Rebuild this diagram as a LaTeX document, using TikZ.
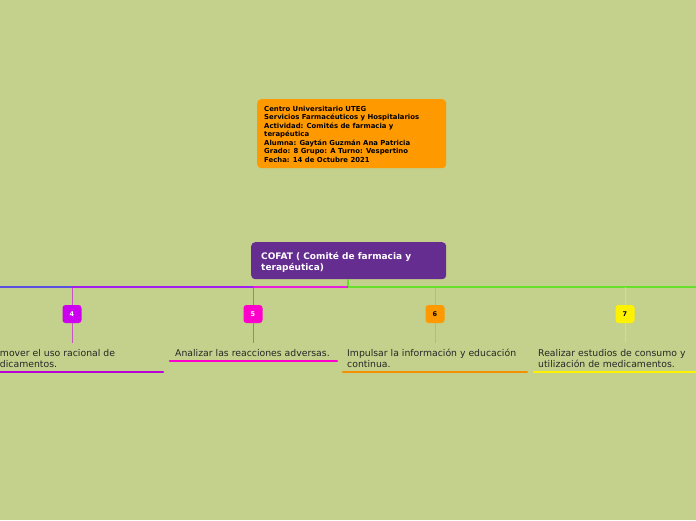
\documentclass[tikz,border=0pt]{standalone}
\usepackage{fontspec}
\setmainfont{DejaVu Sans}
\definecolor{bg}{HTML}{C3D18C}
\definecolor{orng}{HTML}{FF9900}
\definecolor{purp}{HTML}{662D91}
\definecolor{grn}{HTML}{66E02A}
\definecolor{lblue}{HTML}{5B4FE0}
\definecolor{lpurp}{HTML}{A020F0}
\definecolor{lmag}{HTML}{E61EDC}
\definecolor{cfour}{HTML}{CC00EE}
\definecolor{cfive}{HTML}{FF00CC}
\definecolor{csix}{HTML}{FF9900}
\definecolor{cseven}{HTML}{FFF200}
\newcommand{\leafstrut}{\rule{0pt}{9pt}}
\begin{document}
\begin{tikzpicture}[x=1pt,y=-1pt,
  numbox/.style={rounded corners=3pt, minimum width=19pt, minimum height=18pt, inner sep=0pt, font=\fontsize{6.5}{7}\selectfont\bfseries},
  leaf/.style={anchor=north west, inner sep=0pt, align=left, text=black!85, font=\fontsize{9.3}{11}\selectfont},
  stem/.style={line width=1pt, opacity=0.6},
  trunk/.style={line width=1.6pt},
  uline/.style={line width=2.4pt}
]
\useasboundingbox (0,0) rectangle (696,520);
\fill[bg] (0,0) rectangle (696,520);
\clip (0,0) rectangle (696,520);

% info box
\node[fill=orng, rounded corners=4pt, anchor=north west, minimum width=189pt, minimum height=69pt, inner sep=0pt] (info) at (257,99) {};
\node[anchor=north west, inner sep=0pt, align=left, text=black, font=\fontsize{6.9}{8.5}\selectfont\bfseries] (infotext) at (264,106)
{Centro Universitario UTEG\\Servicios Farmacéuticos y Hospitalarios\\Actividad: Comités de farmacia y\\terapéutica\\Alumna: Gaytán Guzmán Ana Patricia\\Grado: 8 Grupo: A Turno: Vespertino\\Fecha: 14 de Octubre 2021};

% central node
\node[fill=purp, rounded corners=4pt, anchor=north west, minimum width=195pt, minimum height=37pt, inner sep=0pt] (cofat) at (251,242) {};
\node[anchor=north west, inner sep=0pt, align=left, text=white, font=\fontsize{9}{11}\selectfont\bfseries] (cofattext) at (261,252)
{COFAT ( Comité de farmacia y\\terapéutica)};

% junction coordinates
\coordinate (jc) at (348,287);
\coordinate (jl) at (0,287);
\coordinate (j4) at (72,287);
\coordinate (j5) at (253,287);
\coordinate (j6) at (435,287);
\coordinate (j7) at (625,287);
\coordinate (jr) at (696,287);

\draw[grn, trunk] (cofat.south -| jc) -- (jc);
\draw[grn, trunk] (jc) -- (jr);
\draw[lmag, trunk] (jc) -- (j5);
\draw[lpurp, trunk] (j5) -- (j4);
\draw[lblue, trunk] (j4) -- (jl);

% numbered boxes
\node[numbox, fill=cfour, text=white] (n4) at (72,314) {4};
\node[numbox, fill=cfive, text=white] (n5) at (253,314) {5};
\node[numbox, fill=csix, text=black] (n6) at (435,314) {6};
\node[numbox, fill=cseven, text=black] (n7) at (625,314) {7};

\draw[cfour, stem, rounded corners=2pt] (j4) -- (n4.north);
\draw[cfive, stem, rounded corners=2pt] (j5) -- (n5.north);
\draw[csix, stem, rounded corners=2pt] (j6) -- (n6.north);
\draw[cseven, stem, rounded corners=2pt] (j7) -- (n7.north);

\coordinate (e4) at (72,343);
\coordinate (e5) at (253,343);
\coordinate (e6) at (435,343);
\coordinate (e7) at (625,343);
\draw[cfour, stem] (n4.south) -- (e4);
\draw[cfive, stem] (n5.south) -- (e5);
\draw[csix, stem] (n6.south) -- (e6);
\draw[cseven, stem] (n7.south) -- (e7);

% leaf texts
\node[leaf] (t4) at (-15,347.5) {\leafstrut Promover el uso racional de\\medicamentos.};
\node[leaf] (t5) at (175,347.5) {\leafstrut Analizar las reacciones adversas.};
\node[leaf] (t6) at (347,347.5) {\leafstrut Impulsar la información y educación\\continua.};
\node[leaf] (t7) at (538,347.5) {\leafstrut Realizar estudios de consumo y\\utilización de medicamentos.};

% underlines
\coordinate (u4a) at (-20,372); \coordinate (u4b) at (163,372);
\coordinate (u5a) at (170,361); \coordinate (u5b) at (337,361);
\coordinate (u6a) at (343,372); \coordinate (u6b) at (527,372);
\coordinate (u7a) at (534,372); \coordinate (u7b) at (700,372);
\draw[uline, color=cfour!90!black, line cap=round] (u4a) -- (u4b);
\draw[uline, color=cfive, line cap=round] (u5a) -- (u5b);
\draw[uline, color=csix!95!black, line cap=round] (u6a) -- (u6b);
\draw[uline, color=cseven, line cap=round] (u7a) -- (u7b);
\end{tikzpicture}
\end{document}
